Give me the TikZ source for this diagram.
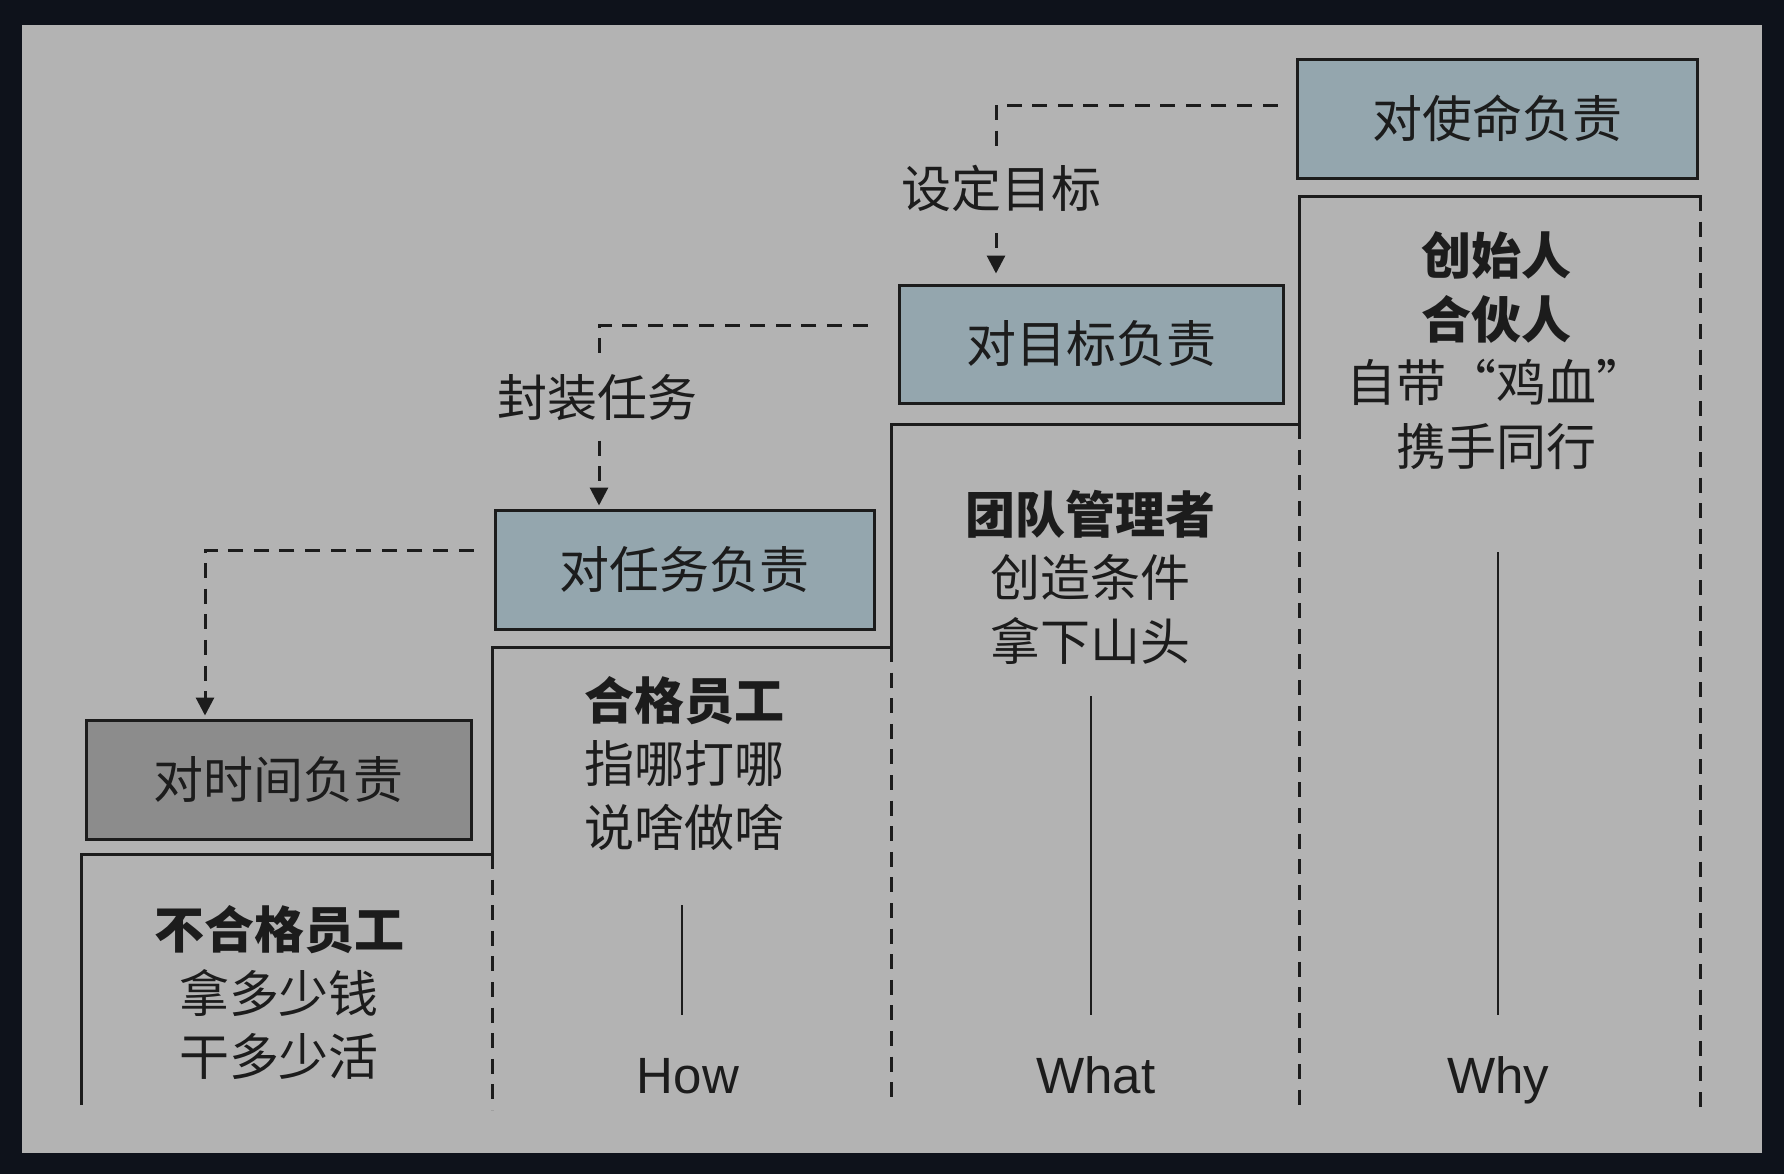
\documentclass[tikz,border=0pt]{standalone}
\usepackage{fontspec}
\setmainfont{Liberation Sans}
\newfontfamily\cjk{Noto Sans CJK SC}
\usetikzlibrary{arrows.meta}

\definecolor{frame}{HTML}{0E121B}
\definecolor{panel}{HTML}{B3B3B3}
\definecolor{steel}{HTML}{94A6AE}
\definecolor{slate}{HTML}{8C8C8C}
\definecolor{ink}{HTML}{1C1C1C}

\begin{document}
\begin{tikzpicture}[x=0.5pt,y=-0.5pt,
  role/.style={draw=ink, line width=1.5pt, fill=steel, inner sep=0pt,
    font=\cjk\fontsize{25}{30}\selectfont, text=ink},
  blk/.style={align=center, inner sep=0pt, text=ink,
    font=\cjk\fontsize{25}{31.75}\selectfont},
  lab/.style={fill=panel, inner xsep=2pt, inner ysep=8pt, text=ink,
    font=\cjk\fontsize{25}{30}\selectfont},
  tag/.style={anchor=base, inner sep=0pt, text=ink, font=\fontsize{25.5}{30}\selectfont},
  stair/.style={draw=ink, line width=1.5pt},
  divider/.style={draw=ink, line width=1.5pt, dash pattern=on 7.5pt off 5.3pt},
  stem/.style={draw=ink, line width=1.4pt},
  flow/.style={draw=ink, line width=1.5pt, dash pattern=on 7.5pt off 5.3pt,
    -{Triangle[length=9pt,width=9pt]}}]

\useasboundingbox (0,0) rectangle (1784,1174);
\fill[frame] (0,0) rectangle (1784,1174);
\fill[panel] (22,25) rectangle (1762,1153);

% staircase and column dividers
\draw[stair] (81,1105) -- (81,854) -- (492,854) -- (492,647) -- (891,647)
  -- (891,424) -- (1299,424) -- (1299,196) -- (1702,196);
\draw[divider] (492,854) -- (492,1110);
\draw[divider] (891,647) -- (891,1098);
\draw[divider] (1299,424) -- (1299,1110);
\draw[divider] (1700,196) -- (1700,1110);

% responsibility boxes
\node[role, minimum width=200pt, minimum height=59.5pt] (mission) at (1497,118.5) {对使命负责};
\node[role, minimum width=192pt, minimum height=59pt] (goal) at (1091,344) {对目标负责};
\node[role, minimum width=189.5pt, minimum height=59.5pt] (task) at (684.5,569.5) {对任务负责};
\node[role, fill=slate, minimum width=192.5pt, minimum height=59.5pt] (time) at (278.5,779.5) {对时间负责};

% hand-over connectors
\coordinate (k1) at (996,105);
\coordinate (k2) at (599,325);
\coordinate (k3) at (205,550);
\draw[flow, shorten <=9pt, shorten >=5pt] (mission.west |- k1) -- (k1) -- (k1 |- goal.north);
\draw[flow, shorten <=15pt, shorten >=1.5pt] (goal.west |- k2) -- (k2) -- (k2 |- task.north);
\draw[flow, shorten <=10pt, shorten >=1.5pt] (task.west |- k3) -- (k3) -- (k3 |- time.north);
\node[lab] (set) at (1001,188) {设定目标};
\node[lab, inner ysep=7pt] (pack) at (597,398) {封装任务};

% role descriptions
\node[blk] (d1) at (279,993) {{\bfseries 不合格员工}\\拿多少钱\\干多少活};
\node[blk] (d2) at (684,763) {{\bfseries 合格员工}\\指哪打哪\\说啥做啥};
\node[blk] (d3) at (1090,577) {{\bfseries 团队管理者}\\创造条件\\拿下山头};
\node[blk] (d4) at (1496,350.5) {{\bfseries 创始人}\\{\bfseries 合伙人}\\自带“鸡血”\\携手同行};

% question labels with their stems
\node[tag] (how) at (688,1093) {How};
\node[tag] (what) at (1096,1093) {What};
\node[tag] (why) at (1498,1093) {Why};
\draw[stem] (682,905) -- (682,1015);
\draw[stem] (1091,696) -- (1091,1015);
\draw[stem] (1498,552) -- (1498,1015);
\end{tikzpicture}
\end{document}
